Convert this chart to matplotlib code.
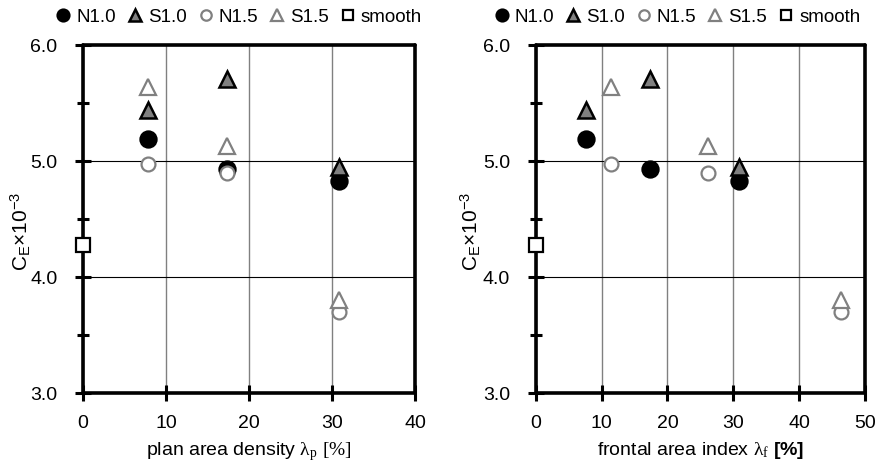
import matplotlib
matplotlib.use("Agg")
import matplotlib.pyplot as plt
from matplotlib.ticker import MultipleLocator, FormatStrFormatter

plt.rcParams['font.family'] = ['Liberation Sans', 'DejaVu Sans']
plt.rcParams['mathtext.fontset'] = 'custom'
plt.rcParams['mathtext.rm'] = 'Liberation Serif'
plt.rcParams['mathtext.it'] = 'Liberation Serif:italic'
plt.rcParams['mathtext.bf'] = 'Liberation Sans:bold'

# plan area density lambda_p [%]
lp = [7.8, 17.4, 30.9]
# frontal area index lambda_f [%]
lf_10 = [7.7, 17.3, 30.9]
lf_15 = [11.5, 26.1, 46.4]

# C_E x 10^-3
n10 = [5.19, 4.93, 4.83]
s10 = [5.44, 5.71, 4.95]
n15 = [4.97, 4.90, 3.70]
s15 = [5.635, 5.13, 3.80]
smooth_x = [0]
smooth_y = [4.28]

series_names = ["N1.0", "S1.0", "N1.5", "S1.5", "smooth"]

styles = {
    "N1.0": dict(marker="o", ms=12, mfc="black", mec="black", mew=1.2),
    "S1.0": dict(marker="^", ms=12, mfc="#808080", mec="black", mew=1.8),
    "N1.5": dict(marker="o", ms=10, mfc="white", mec="#808080", mew=1.6),
    "S1.5": dict(marker="^", ms=12, mfc="white", mec="#808080", mew=1.6),
    "smooth": dict(marker="s", ms=9.5, mfc="white", mec="black", mew=1.6),
}

fig = plt.figure(figsize=(8.78, 4.68), dpi=100)
ax1 = fig.add_axes([83 / 878, 75 / 468, 332 / 878, 348 / 468])
ax2 = fig.add_axes([535.7 / 878, 75 / 468, 329.3 / 878, 348 / 468])


def draw_panel(ax, xs, xmax, xlabel, label_x, leg_x):
    data = {"N1.0": (xs[0], n10), "S1.0": (xs[0], s10),
            "N1.5": (xs[1], n15), "S1.5": (xs[1], s15),
            "smooth": (smooth_x, smooth_y)}
    handles = []
    for i, name in enumerate(series_names):
        x, y = data[name]
        h, = ax.plot(x, y, linestyle="none", label=name, clip_on=False,
                     zorder=5 + i, **styles[name])
        handles.append(h)

    ax.set_xlim(0, xmax)
    ax.set_ylim(3.0, 6.0)
    ax.xaxis.set_major_locator(MultipleLocator(10))
    ax.yaxis.set_major_locator(MultipleLocator(1.0))
    ax.yaxis.set_minor_locator(MultipleLocator(0.5))
    ax.yaxis.set_major_formatter(FormatStrFormatter("%.1f"))

    ax.grid(axis="x", color="#808080", linewidth=1.0)
    ax.grid(axis="y", color="black", linewidth=0.8)
    ax.set_axisbelow(True)

    for sp in ax.spines.values():
        sp.set_linewidth(2.6)
        sp.set_capstyle("round")
    ax.tick_params(which="major", direction="inout", length=11, width=2.2,
                   labelsize=14, top=False, right=False)
    ax.tick_params(axis="y", which="major", pad=13)
    ax.tick_params(axis="x", which="major", pad=10)
    ax.tick_params(which="minor", direction="inout", length=8, width=2.2,
                   top=False, right=False)

    ax.set_xlabel(xlabel, fontsize=14, labelpad=6)
    ax.set_ylabel(r"C$_\mathregular{E}$×10$^\mathregular{-3}$", fontsize=15)
    ax.yaxis.set_label_coords(label_x, 0.463)

    ax.legend(handles=handles, loc="center", bbox_to_anchor=(leg_x, 1.08),
              ncol=5, frameon=False, fontsize=13.5, markerscale=0.75,
              handlelength=0.8, handletextpad=0.3, columnspacing=0.6,
              borderaxespad=0)


draw_panel(ax1, (lp, lp), 40,
           r"plan area density $\mathrm{\lambda_p}$ $\mathrm{[\%]}$", -0.15, 0.47)
draw_panel(ax2, (lf_10, lf_15), 50,
           r"frontal area index $\mathrm{\lambda_f}$ $\mathbf{[\%]}$", -0.16, 0.43)

fig.savefig("out.png", dpi=100)
